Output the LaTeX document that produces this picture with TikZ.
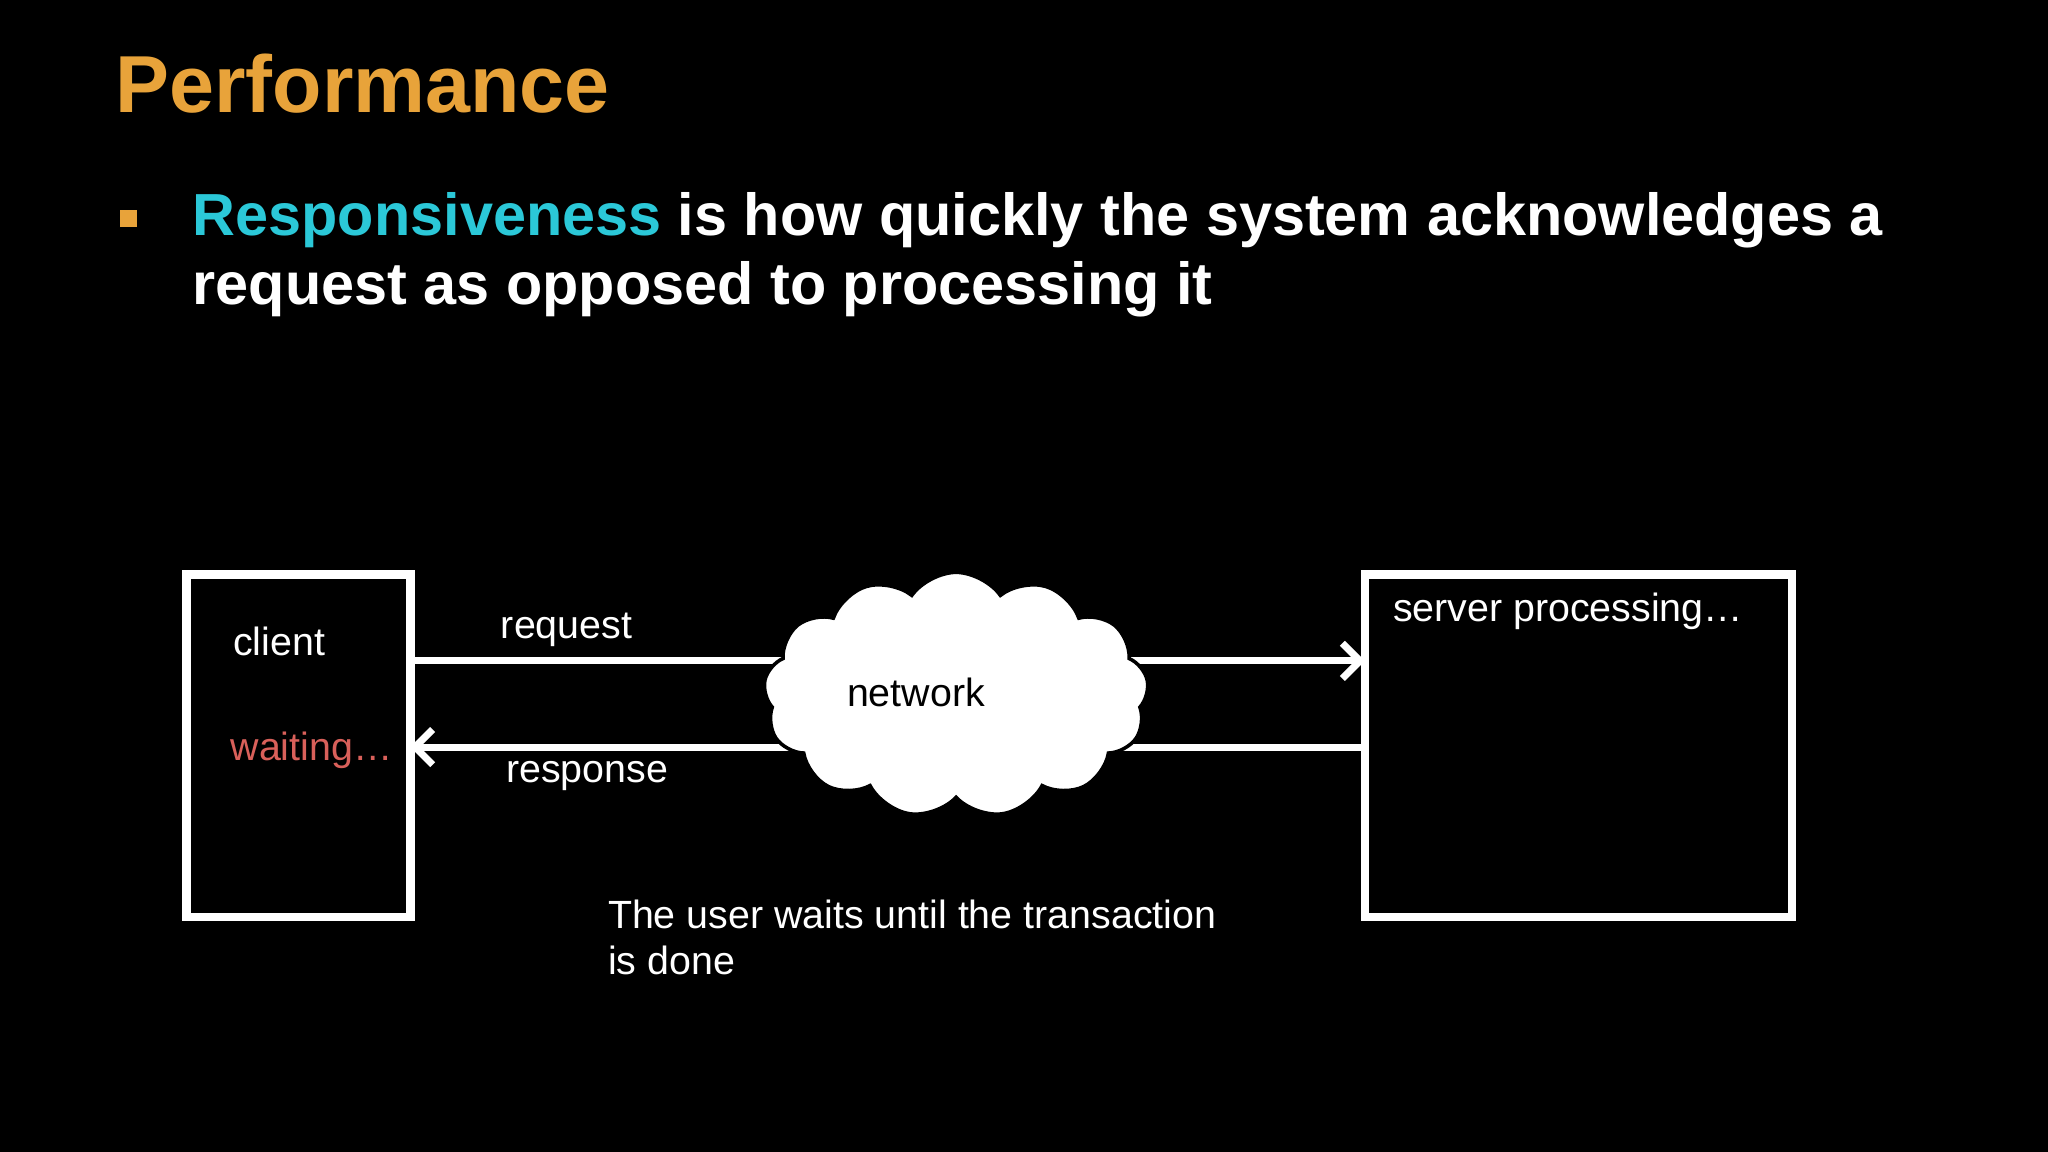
\documentclass[tikz,border=0pt]{standalone}
\usepackage{fontspec}
\setmainfont{Liberation Sans}
\usetikzlibrary{shapes.symbols,arrows.meta}
\definecolor{ttl}{HTML}{E8A33A}
\definecolor{cy}{HTML}{2BC8D8}
\definecolor{wr}{HTML}{D9605A}
\begin{document}
\begin{tikzpicture}[x=0.01306cm,y=-0.01306cm,
  box/.style={draw=white,line width=2.5pt},
  lbl/.style={text=white,anchor=base west,inner sep=0,font=\fontsize{11.2}{14}\selectfont},
  conn/.style={draw=white,line width=2pt,-{Straight Barb[length=5pt,width=10pt]}}]
\fill[black] (0,0) rectangle (1568,882);
\useasboundingbox (0,0) rectangle (1568,882);
\node[anchor=base west,inner sep=0,text=ttl,font=\fontsize{23}{28}\selectfont\bfseries] (title) at (88,86) {Performance};
\fill[ttl] (92,161) rectangle (105,174);
\node[anchor=base west,inner sep=0,text=white,font=\fontsize{16.9}{21}\selectfont\bfseries] (l1) at (147,180) {\textcolor{cy}{Responsiveness} is how quickly the system acknowledges a};
\node[anchor=base west,inner sep=0,text=white,font=\fontsize{16.9}{21}\selectfont\bfseries] (l2) at (147,233) {request as opposed to processing it};
\draw[box] (143,440) rectangle (314,702);
\draw[box] (1045,440) rectangle (1372,702);
\coordinate (cr) at (314,506); \coordinate (sr) at (1045,506);
\coordinate (cs) at (314,572); \coordinate (ss) at (1045,572);
\draw[conn] (cr) -- (sr);
\draw[conn] (ss) -- (cs);
\node[cloud,cloud puffs=13,cloud puff arc=110,aspect=1.5,fill=white,draw=black,line width=1pt,minimum width=3.85cm,minimum height=2.45cm] (net) at (732,532) {};
\node[lbl,text=black] (nt) at (648,541) {network};
\node[lbl] (client) at (178,502) {client};
\node[lbl,text=wr] (wait) at (176,582) {waiting…};
\node[lbl] (srv) at (1066,476) {server processing…};
\node[lbl] (req) at (383,489) {request};
\node[lbl] (resp) at (387,599) {response};
\node[lbl] (c1) at (465,711) {The user waits until the transaction};
\node[lbl] (c2) at (465,746) {is done};
\end{tikzpicture}
\end{document}
